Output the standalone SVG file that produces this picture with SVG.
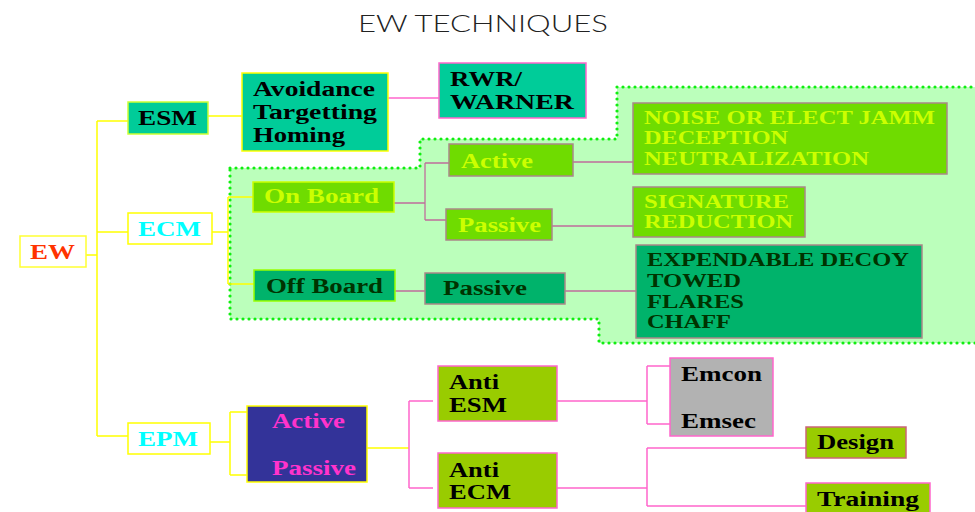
<svg xmlns="http://www.w3.org/2000/svg" width="975" height="512" viewBox="0 0 975 512">
<style>
.t{font-family:"Liberation Serif","Times New Roman",serif;font-weight:bold;font-size:20px;lengthAdjust:spacingAndGlyphs}
.s{font-size:18.5px}
.blk{fill:#000}
.lg{fill:#ccff00}
.dg{fill:#003300}
.pk{fill:#ff33cc}
.cy{fill:#00ffff}
.y{stroke:#ffff00;stroke-width:1.5;fill:none}
.m{stroke:#c06e9c;stroke-width:1.3;fill:none}
.p{stroke:#ff66cc;stroke-width:1.5;fill:none}
.bx{stroke-width:1.5}
</style>
<rect width="975" height="512" fill="#ffffff"/>
<text x="358" y="32" textLength="250" lengthAdjust="spacingAndGlyphs" font-family="Lato,'Liberation Sans',sans-serif" font-weight="300" font-size="24" fill="#222222">EW TECHNIQUES</text>

<polygon id="ecm-region" points="230,168 420,168 420,139 617,139 617,87 977,87 977,343 599,343 599,319 230,319" fill="#bbffbb" stroke="#11ee11" stroke-width="3.2" stroke-dasharray="0 6" stroke-linecap="round"/>

<g id="connectors">
<path class="y" d="M86,255H97M97,121V436M97,121H128M97,232H128M97,436H128"/>
<path class="y" d="M208,116H242"/>
<path class="p" d="M388,98H439"/>
<path class="y" d="M212,232H228M228,197V284M228,197H253M228,284H254"/>
<path class="m" d="M392,203H425M425,163V220M425,163H449M425,220H446M573,162H633M552,226H633M395,291H425M565,291H636"/>
<path class="y" d="M210,442H230M230,412V475M230,412H255M230,475H255M367,448H409"/>
<path class="p" d="M409,401V488M409,401H433M409,488H433M557,401H647M647,366V424M647,366H671M647,424H671M557,488H647M647,448V506M647,448H806M647,506H806"/>
</g>

<g id="ew"><rect class="bx" x="20" y="236" width="66" height="31" fill="#ffffff" stroke="#ffff33"/>
<text class="t" x="30" y="259" font-size="21" textLength="45" lengthAdjust="spacingAndGlyphs" fill="#ff3300">EW</text></g>

<g id="esm"><rect class="bx" x="128" y="102" width="80" height="32" fill="#00cc99" stroke="#ccff33"/>
<text class="t blk" x="138" y="125" textLength="59" lengthAdjust="spacingAndGlyphs">ESM</text></g>

<g id="ecm"><rect class="bx" x="128" y="213" width="84" height="31" fill="#ffffff" stroke="#ffff00"/>
<text class="t cy" x="138" y="236" textLength="63" lengthAdjust="spacingAndGlyphs">ECM</text></g>

<g id="epm"><rect class="bx" x="128" y="423" width="82" height="31" fill="#ffffff" stroke="#ffff00"/>
<text class="t cy" x="138" y="446" textLength="60" lengthAdjust="spacingAndGlyphs">EPM</text></g>

<g id="avoidance"><rect class="bx" x="242" y="73" width="146" height="78" fill="#00cc99" stroke="#ffff00"/>
<text class="t blk" x="253" y="96" textLength="122" lengthAdjust="spacingAndGlyphs">Avoidance</text>
<text class="t blk" x="253" y="119" textLength="124" lengthAdjust="spacingAndGlyphs">Targetting</text>
<text class="t blk" x="253" y="142" textLength="92" lengthAdjust="spacingAndGlyphs">Homing</text></g>

<g id="rwr"><rect class="bx" x="439" y="63" width="147" height="55" fill="#00cc99" stroke="#ff66cc"/>
<text class="t blk" x="450" y="86" textLength="72" lengthAdjust="spacingAndGlyphs">RWR/</text>
<text class="t blk" x="450" y="109" textLength="124" lengthAdjust="spacingAndGlyphs">WARNER</text></g>

<g id="onboard"><rect class="bx" x="253" y="182" width="141" height="30" fill="#6fdc00" stroke="#ccff00"/>
<text class="t lg" x="264" y="203" textLength="115" lengthAdjust="spacingAndGlyphs">On Board</text></g>

<g id="offboard"><rect class="bx" x="254" y="270" width="141" height="31" fill="#00b36b" stroke="#99ff00"/>
<text class="t dg" x="266" y="293" textLength="117" lengthAdjust="spacingAndGlyphs">Off Board</text></g>

<g id="active"><rect class="bx" x="449" y="144" width="124" height="32" fill="#6fdc00" stroke="#aa8888"/>
<text class="t lg" x="461" y="168" textLength="72" lengthAdjust="spacingAndGlyphs">Active</text></g>

<g id="passive-on"><rect class="bx" x="446" y="209" width="106" height="31" fill="#6fdc00" stroke="#aa8888"/>
<text class="t lg" x="458" y="232" textLength="83" lengthAdjust="spacingAndGlyphs">Passive</text></g>

<g id="passive-off"><rect class="bx" x="425" y="273" width="140" height="31" fill="#00b36b" stroke="#aa8888"/>
<text class="t dg" x="443" y="295" textLength="84" lengthAdjust="spacingAndGlyphs">Passive</text></g>

<g id="noise"><rect class="bx" x="633" y="103" width="314" height="71" fill="#6fdc00" stroke="#aa8888"/>
<text class="t s lg" x="644" y="124" textLength="291" lengthAdjust="spacingAndGlyphs">NOISE OR ELECT JAMM</text>
<text class="t s lg" x="644" y="144" textLength="144" lengthAdjust="spacingAndGlyphs">DECEPTION</text>
<text class="t s lg" x="644" y="165" textLength="225" lengthAdjust="spacingAndGlyphs">NEUTRALIZATION</text></g>

<g id="signature"><rect class="bx" x="633" y="187" width="172" height="50" fill="#6fdc00" stroke="#aa8888"/>
<text class="t s lg" x="644" y="208" textLength="145" lengthAdjust="spacingAndGlyphs">SIGNATURE</text>
<text class="t s lg" x="644" y="228" textLength="149" lengthAdjust="spacingAndGlyphs">REDUCTION</text></g>

<g id="expendable"><rect class="bx" x="636" y="245" width="286" height="93" fill="#00b36b" stroke="#aa8888"/>
<text class="t s dg" x="647" y="266" textLength="262" lengthAdjust="spacingAndGlyphs">EXPENDABLE DECOY</text>
<text class="t s dg" x="647" y="287" textLength="94" lengthAdjust="spacingAndGlyphs">TOWED</text>
<text class="t s dg" x="647" y="308" textLength="97" lengthAdjust="spacingAndGlyphs">FLARES</text>
<text class="t s dg" x="647" y="328" textLength="84" lengthAdjust="spacingAndGlyphs">CHAFF</text></g>

<g id="epm-modes"><rect class="bx" x="247" y="406" width="120" height="76" fill="#333399" stroke="#ffff00"/>
<text class="t pk" x="272" y="428" textLength="73" lengthAdjust="spacingAndGlyphs">Active</text>
<text class="t pk" x="272" y="475" textLength="84" lengthAdjust="spacingAndGlyphs">Passive</text></g>

<g id="anti-esm"><rect class="bx" x="438" y="366" width="119" height="55" fill="#99cc00" stroke="#ff66cc"/>
<text class="t blk" x="449" y="389" textLength="50" lengthAdjust="spacingAndGlyphs">Anti</text>
<text class="t blk" x="449" y="412" textLength="58" lengthAdjust="spacingAndGlyphs">ESM</text></g>

<g id="anti-ecm"><rect class="bx" x="438" y="453" width="119" height="55" fill="#99cc00" stroke="#ff66cc"/>
<text class="t blk" x="449" y="477" textLength="50" lengthAdjust="spacingAndGlyphs">Anti</text>
<text class="t blk" x="449" y="499" textLength="62" lengthAdjust="spacingAndGlyphs">ECM</text></g>

<g id="emcon"><rect class="bx" x="670" y="358" width="103" height="78" fill="#b2b2b2" stroke="#ff66cc"/>
<text class="t blk" x="681" y="381" textLength="81" lengthAdjust="spacingAndGlyphs">Emcon</text>
<text class="t blk" x="681" y="428" textLength="75" lengthAdjust="spacingAndGlyphs">Emsec</text></g>

<g id="design"><rect class="bx" x="806" y="427" width="100" height="31" fill="#99cc00" stroke="#cc6677"/>
<text class="t blk" x="817" y="449" textLength="77" lengthAdjust="spacingAndGlyphs">Design</text></g>

<g id="training"><rect class="bx" x="806" y="483" width="124" height="35" fill="#99cc00" stroke="#ff66cc"/>
<text class="t blk" x="817" y="506" textLength="102" lengthAdjust="spacingAndGlyphs">Training</text></g>
</svg>
